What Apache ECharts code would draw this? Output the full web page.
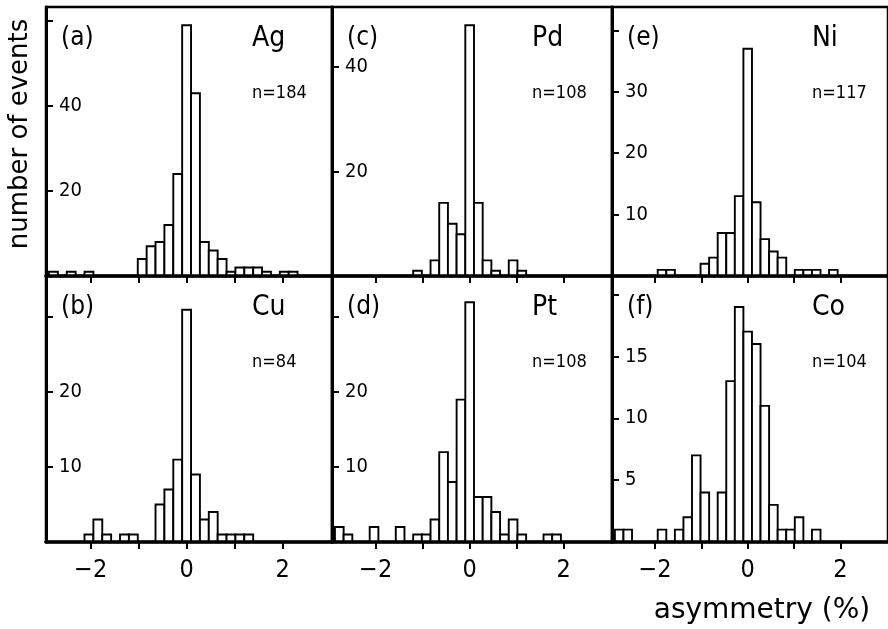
<!DOCTYPE html>
<html>
<head>
<meta charset="utf-8">
<script src="https://cdn.jsdelivr.net/npm/echarts@6/dist/echarts.min.js"></script>
<style>
  html, body { margin: 0; padding: 0; background: #fff; }
  #chart { width: 888px; height: 629px; }
</style>
</head>
<body>
<div id="chart"></div>
<script>
// histogram bins (asymmetry in %), bin width 0.185
var binCenters = [-2.775, -2.59, -2.405, -2.22, -2.035, -1.85, -1.665, -1.48, -1.295, -1.11,
  -0.925, -0.74, -0.555, -0.37, -0.185, 0, 0.185, 0.37, 0.555, 0.74,
  0.925, 1.11, 1.295, 1.48, 1.665, 1.85, 2.035, 2.22, 2.405, 2.59, 2.775];
var binWidth = 0.185;

// number of events per bin, one list per panel
var agCounts = [1,0,1,0,1,0,0,0,0,0,4,7,8,12,24,59,43,8,6,4,1,2,2,2,1,0,1,1,0,0,0];
var pdCounts = [0,0,0,0,0,0,0,0,0,1,0,3,14,10,8,48,14,3,1,0,3,1,0,0,0,0,0,0,0,0,0];
var niCounts = [0,0,0,0,0,1,1,0,0,0,2,3,7,7,13,37,12,6,4,3,0,1,1,1,0,1,0,0,0,0,0];
var cuCounts = [0,0,0,0,1,3,1,0,1,1,0,0,5,7,11,31,9,3,4,1,1,1,1,0,0,0,0,0,0,0,0];
var ptCounts = [2,1,0,0,2,0,0,2,0,1,1,3,12,8,19,32,6,6,4,1,3,1,0,0,1,1,0,0,0,0,0];
var coCounts = [1,1,0,0,0,1,0,1,2,7,4,0,4,13,19,17,16,11,3,1,1,2,0,1,0,0,0,0,0,0,0];

var panelTags = ['(a)', '(c)', '(e)', '(b)', '(d)', '(f)'];
var metals = ['Ag', 'Pd', 'Ni', 'Cu', 'Pt', 'Co'];
var eventTotals = [184, 108, 117, 84, 108, 104];
var xTickValues = [-2, -1, 0, 1, 2];
var xLabelValues = [-2, 0, 2];
var yTickValues = [[0, 20, 40, 60], [0, 20, 40], [0, 10, 20, 30, 40], [0, 10, 20, 30], [0, 10, 20, 30], [0, 5, 10, 15, 20]];
var yLabelValues = [[20, 40], [20, 40], [10, 20, 30], [10, 20], [10, 20], [5, 10, 15]];

var allCounts = [agCounts, pdCounts, niCounts, cuCounts, ptCounts, coCounts];
var yMax = [63.3, 51.5, 43.8, 35.5, 35.5, 21.5];

var boxes = [
  { left: 46, top: 7, width: 286, height: 269 },
  { left: 332, top: 7, width: 280, height: 269 },
  { left: 612, top: 7, width: 280, height: 269 },
  { left: 46, top: 276, width: 286, height: 266 },
  { left: 332, top: 276, width: 280, height: 266 },
  { left: 612, top: 276, width: 280, height: 266 }
];

var fontFam = "'DejaVu Sans Condensed', 'DejaVu Sans', sans-serif";
var titleFam = "'DejaVu Sans', sans-serif";

function minusFmt(v) {
  return v < 0 ? '\u2212' + Math.abs(v) : String(v);
}

// one white bar with black outline per bin
function renderBar(params, api) {
  var x = api.value(0), n = api.value(1);
  if (!n) return null;
  var p0 = api.coord([x - binWidth / 2, n]);
  var p1 = api.coord([x + binWidth / 2, 0]);
  return {
    type: 'rect',
    shape: { x: p0[0], y: p0[1], width: p1[0] - p0[0], height: p1[1] - p0[1] },
    style: { fill: '#fff', stroke: '#000', lineWidth: 1.9 }
  };
}

var grids = [], xAxes = [], yAxes = [], series = [], graphics = [];

boxes.forEach(function (b, i) {
  var bottomRow = i >= 3;
  grids.push({
    left: b.left, top: b.top, width: b.width, height: b.height,
    show: true, borderColor: '#000', borderWidth: 2.5, backgroundColor: 'transparent'
  });
  xAxes.push({
    type: 'value', gridIndex: i, min: -2.93, max: 3.03, z: 5,
    axisLine: { show: true, onZero: false, lineStyle: { color: '#000', width: 3.5 } },
    axisTick: { show: true, inside: false, length: 7, customValues: xTickValues, lineStyle: { color: '#000', width: 2 } },
    axisLabel: {
      show: bottomRow, customValues: xLabelValues, margin: 16,
      color: '#000', fontSize: 25, fontFamily: fontFam, formatter: minusFmt
    },
    splitLine: { show: false }
  });
  yAxes.push({
    type: 'value', gridIndex: i, min: 0, max: yMax[i], z: 5,
    axisLine: { show: true, onZero: false, lineStyle: { color: '#000', width: 3 } },
    axisTick: { show: true, inside: true, length: 7, customValues: yTickValues[i], lineStyle: { color: '#000', width: 2 } },
    axisLabel: {
      show: true, inside: true, customValues: yLabelValues[i], margin: 13,
      color: '#000', fontSize: 20, fontFamily: fontFam
    },
    splitLine: { show: false }
  });
  series.push({
    type: 'custom', xAxisIndex: i, yAxisIndex: i, z: 2,
    renderItem: renderBar,
    data: binCenters.map(function (c, k) { return [c, allCounts[i][k]]; })
  });

  var right = b.left + b.width;
  var midY = b.top + 31;
  graphics.push({
    type: 'text', x: b.left + 15, y: midY,
    style: { text: panelTags[i], fontSize: 26, fontFamily: fontFam, fill: '#000', verticalAlign: 'middle' }
  });
  graphics.push({
    type: 'text', x: right - 80, y: midY + 1,
    style: { text: metals[i], fontSize: 28, fontFamily: fontFam, fill: '#000', verticalAlign: 'middle' }
  });
  graphics.push({
    type: 'text', x: right - 80, y: b.top + 86,
    style: { text: 'n=' + eventTotals[i], fontSize: 18, fontFamily: fontFam, fill: '#000', verticalAlign: 'middle' }
  });
});

graphics.push({
  type: 'text', x: 20, y: 134, rotation: Math.PI / 2,
  style: { text: 'number of events', fontSize: 26, fontFamily: titleFam, fill: '#000', align: 'center', verticalAlign: 'middle' }
});
graphics.push({
  type: 'text', x: 762, y: 611,
  style: { text: 'asymmetry (%)', fontSize: 28, fontFamily: titleFam, fill: '#000', align: 'center', verticalAlign: 'middle' }
});

var chart = echarts.init(document.getElementById('chart'), null, { renderer: 'canvas' });
chart.setOption({
  animation: false,
  backgroundColor: '#fff',
  grid: grids,
  xAxis: xAxes,
  yAxis: yAxes,
  series: series,
  graphic: graphics
});
</script>
</body>
</html>
